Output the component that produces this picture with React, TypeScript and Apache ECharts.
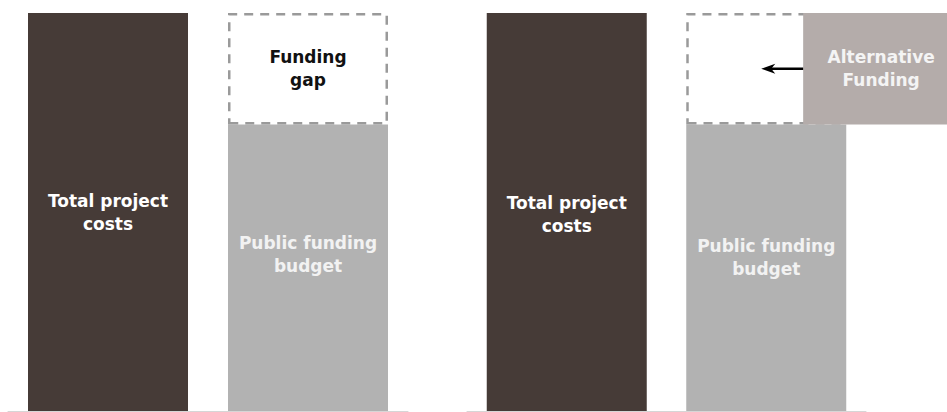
import React, { useEffect, useRef } from "react";
import * as echarts from "echarts";

// Categories per panel
const categories = ["Total project costs", "Public funding budget"];
// Values (share of total project costs, %)
const totalCosts = [100, 100]; // left panel, right panel
const publicBudget = [72, 72];
const fundingGap = [28, 28];
// Alternative funding block (right panel): span on the hidden value x axis and its value range
const altFundingX = [1.685, 2.45];
const altFundingY = [72, 100];
// Arrow from alternative funding into the gap (value x axis), at value y
const arrowX = [1.685, 1.475];
const arrowY = 86;

const DARK = "#463b37";
const GRAY = "#b2b2b2";
const ALT = "#b4acaa";
const FONT = "DejaVu Sans";

export default function App() {
  const ref = useRef<HTMLDivElement>(null);

  useEffect(() => {
    if (!ref.current) return;
    const chart = echarts.init(ref.current, null, { renderer: "svg" });

    const baseLabel = {
      show: true,
      fontFamily: FONT,
      fontWeight: "bold" as const,
      fontSize: 17,
      lineHeight: 23,
    };

    const panelSeries = (p: number) => [
      {
        type: "bar",
        name: "Costs/Budget " + p,
        xAxisIndex: p,
        yAxisIndex: p,
        stack: "s" + p,
        barWidth: 160,
        data: [
          {
            value: totalCosts[p],
            itemStyle: { color: DARK },
            label: {
              ...baseLabel,
              position: "inside",
              color: "#ffffff",
              offset: [0, p === 1 ? 2 : 0],
              formatter: "Total project\ncosts",
            },
          },
          {
            value: publicBudget[p],
            itemStyle: { color: GRAY },
            label: {
              ...baseLabel,
              position: "inside",
              color: "#f2f2f2",
              offset: [0, p === 1 ? -10 : -13],
              formatter: "Public funding\nbudget",
            },
          },
        ],
      },
      {
        type: "bar",
        name: "Funding gap " + p,
        xAxisIndex: p,
        yAxisIndex: p,
        stack: "s" + p,
        barWidth: 160,
        itemStyle: {
          color: "#ffffff",
          borderColor: "#9a9a9a",
          borderWidth: 2.5,
          borderType: [9, 7],
        },
        label:
          p === 0
            ? {
                ...baseLabel,
                position: "inside",
                color: "#111111",
                formatter: "Funding\ngap",
              }
            : { show: false },
        data: ["-", fundingGap[p]],
      },
    ];

    chart.setOption({
      animation: false,
      grid: [
        { left: 8, width: 400, top: 13, bottom: 1 },
        { left: 467, width: 399, top: 13, bottom: 1 },
      ],
      xAxis: [0, 1].map((g) => ({
        type: "category",
        gridIndex: g,
        data: categories,
        axisLine: { show: true, lineStyle: { color: "#d6d6d6", width: 1 } },
        axisTick: { show: false },
        axisLabel: { show: false },
        splitLine: { show: false },
      })).concat([
        {
          type: "value",
          gridIndex: 1,
          min: 0,
          max: 2,
          show: false,
          position: "top",
          splitLine: { show: false },
        } as any,
      ]),
      yAxis: [0, 1].map((g) => ({
        type: "value",
        gridIndex: g,
        min: 0,
        max: 100,
        show: false,
        splitLine: { show: false },
      })),
      series: [
        ...panelSeries(0),
        ...panelSeries(1),
        {
          type: "custom",
          name: "Alternative Funding",
          xAxisIndex: 2,
          yAxisIndex: 1,
          clip: false,
          z: 5,
          data: [[altFundingX[0], altFundingX[1], altFundingY[0], altFundingY[1]]],
          renderItem: (params: any, api: any) => {
            const p0 = api.coord([api.value(0), api.value(3)]);
            const p1 = api.coord([api.value(1), api.value(2)]);
            const a0 = api.coord([arrowX[0], arrowY]);
            const a1 = api.coord([arrowX[1], arrowY]);
            const w = p1[0] - p0[0];
            const h = p1[1] - p0[1];
            return {
              type: "group",
              children: [
                {
                  type: "rect",
                  shape: { x: p0[0], y: p0[1], width: w, height: h },
                  style: { fill: ALT },
                },
                {
                  type: "text",
                  x: p0[0] + 78,
                  y: p0[1] + h / 2,
                  style: {
                    text: "Alternative\nFunding",
                    fill: "#f4f4f4",
                    font: `bold 17px "${FONT}"`,
                    lineHeight: 23,
                    align: "center",
                    verticalAlign: "middle",
                  },
                },
                {
                  type: "line",
                  shape: { x1: a0[0], y1: a0[1], x2: a1[0] + 8, y2: a1[1] },
                  style: { stroke: "#000000", lineWidth: 2.5 },
                },
                {
                  type: "polygon",
                  shape: {
                    points: [
                      [a1[0], a1[1]],
                      [a1[0] + 14, a1[1] - 5],
                      [a1[0] + 10, a1[1]],
                      [a1[0] + 14, a1[1] + 5],
                    ],
                  },
                  style: { fill: "#000000" },
                },
              ],
            };
          },
        },
      ],
    });

    return () => chart.dispose();
  }, []);

  return (
    <div
      ref={ref}
      style={{ position: "fixed", left: 0, top: 0, width: 947, height: 412, background: "#ffffff" }}
    />
  );
}
